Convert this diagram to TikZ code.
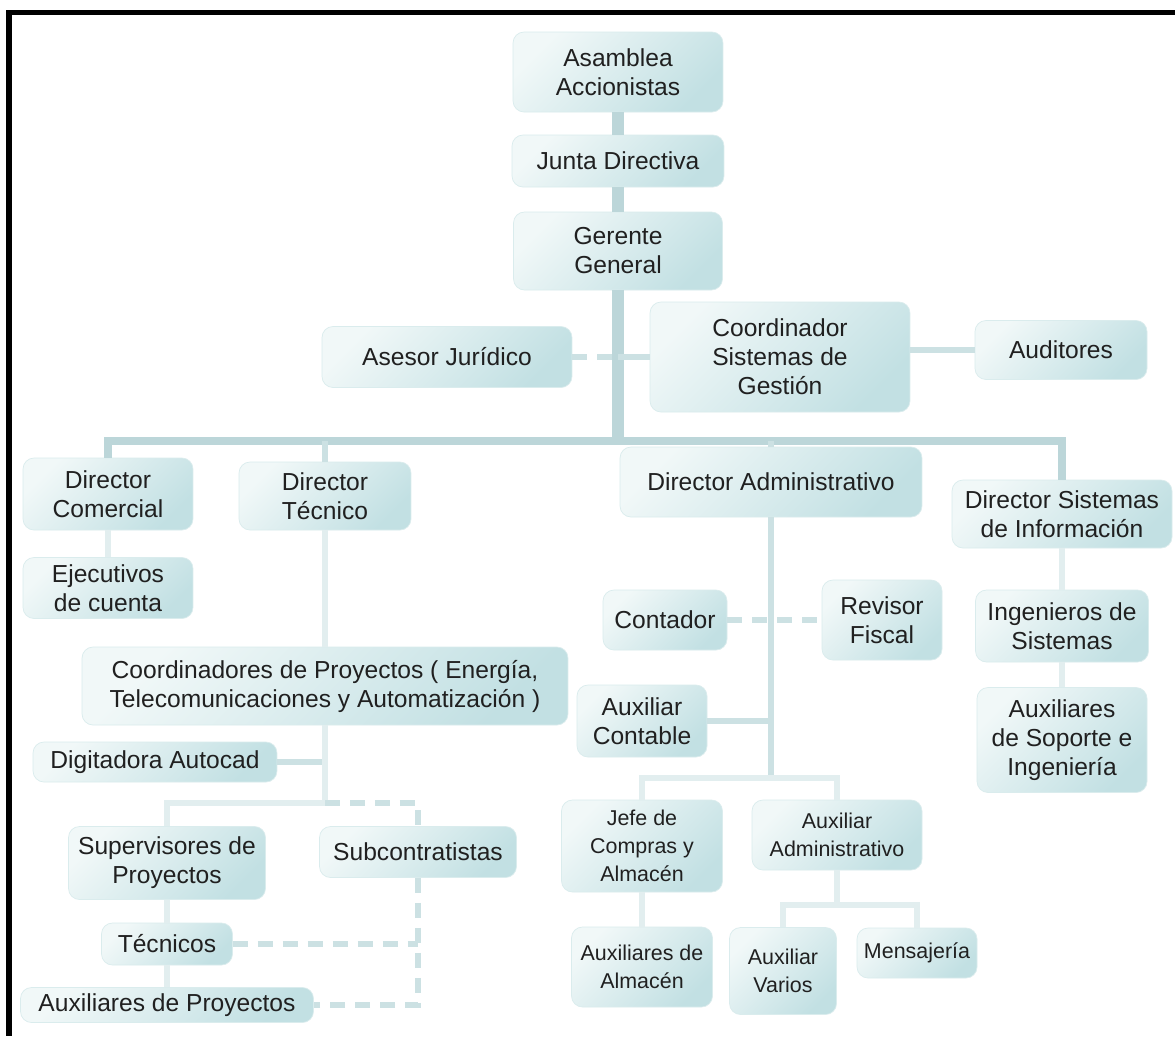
\documentclass[tikz,border=0pt]{standalone}
\usepackage{fontspec}
\setmainfont{Liberation Sans}
\usetikzlibrary{shapes,positioning}

\definecolor{boxlight}{HTML}{F1F8F8}
\definecolor{boxdark}{HTML}{C2E0E3}
\definecolor{boxedge}{HTML}{DAECED}
\definecolor{linkmain}{HTML}{BCD6D9}
\definecolor{linksoft}{HTML}{CCE1E3}
\definecolor{linkfaint}{HTML}{E2EEEF}
\definecolor{ink}{HTML}{202020}

\begin{document}
\begin{tikzpicture}[
        x=0.02cm, y=-0.02cm,
        role/.style={rectangle, rounded corners=0.22cm, draw=boxedge, line width=0.4pt,
            top color=boxlight, bottom color=boxdark, shading angle=45,
            align=center, text=ink, inner sep=2pt,
            font=\fontsize{14}{16.5}\selectfont},
        small/.style={font=\fontsize{12.2}{16}\selectfont},
        link/.style={draw=linkmain, line width=0.24cm},
        buslink/.style={draw=linkmain, line width=0.16cm},
        softlink/.style={draw=linksoft, line width=0.12cm},
        faintlink/.style={draw=linkfaint, line width=0.12cm},
        dashlink/.style={draw=linksoft, line width=0.13cm, dash pattern=on 0.3cm off 0.2cm}
    ]
        % Page and frame
        \useasboundingbox (0,0) rectangle (1175,1036);
        \fill[white] (0,0) rectangle (1175,1036);
        \fill[black] (6,10) rectangle (1175,15);
        \fill[black] (6,10) rectangle (12,1036);

        % Top of the company
        \node (asamblea) [role, minimum width=4.2cm, minimum height=1.6cm] at (618,72) {Asamblea\\Accionistas};
        \node (junta) [role, minimum width=4.24cm, minimum height=1.04cm] at (618,161) {Junta Directiva};
        \node (gerente) [role, minimum width=4.18cm, minimum height=1.56cm] at (618,251) {Gerente\\General};
        \node (asesor) [role, minimum width=5cm, minimum height=1.22cm] at (447,357) {Asesor Jurídico};
        \node (coordsg) [role, minimum width=5.2cm, minimum height=2.2cm] at (780,357) {Coordinador\\Sistemas de\\Gestión};
        \node (auditores) [role, minimum width=3.44cm, minimum height=1.18cm] at (1061,350) {Auditores};

        % Directors
        \node (dircom) [role, minimum width=3.4cm, minimum height=1.44cm] at (108,494) {Director\\Comercial};
        \node (dirtec) [role, minimum width=3.44cm, minimum height=1.36cm] at (325,496) {Director\\Técnico};
        \node (diradm) [role, minimum width=6.04cm, minimum height=1.4cm] at (771,482) {Director Administrativo};
        \node (dirsis) [role, minimum width=4.4cm, minimum height=1.36cm] at (1062,514) {Director Sistemas\\de Información};

        % Commercial and technical areas
        \node (ejecutivos) [role, minimum width=3.4cm, minimum height=1.22cm] at (108,588) {Ejecutivos\\de cuenta};
        \node (coordproy) [role, minimum width=9.72cm, minimum height=1.56cm] at (325,686) {Coordinadores de Proyectos ( Energía,\\Telecomunicaciones y Automatización )};
        \node (digitadora) [role, minimum width=4.88cm, minimum height=0.8cm] at (155,762) {Digitadora Autocad};
        \node (supervisores) [role, minimum width=3.94cm, minimum height=1.46cm] at (167,863) {Supervisores de\\Proyectos};
        \node (subcontr) [role, minimum width=3.94cm, minimum height=1.02cm] at (418,852) {Subcontratistas};
        \node (tecnicos) [role, minimum width=2.62cm, minimum height=0.84cm] at (167,944) {Técnicos};
        \node (auxproy) [role, minimum width=5.86cm, minimum height=0.7cm] at (167,1005) {Auxiliares de Proyectos};

        % Administrative area
        \node (contador) [role, minimum width=2.48cm, minimum height=1.2cm] at (665,620) {Contador};
        \node (revisor) [role, minimum width=2.4cm, minimum height=1.6cm] at (882,620) {Revisor\\Fiscal};
        \node (auxcont) [role, minimum width=2.6cm, minimum height=1.44cm] at (642,721) {Auxiliar\\Contable};
        \node (jefe) [role, small, minimum width=3.22cm, minimum height=1.84cm] at (642,846) {Jefe de\\Compras y\\Almacén};
        \node (auxadm) [role, small, minimum width=3.4cm, minimum height=1.4cm] at (837,835) {Auxiliar\\Administrativo};
        \node (auxalm) [role, small, minimum width=2.82cm, minimum height=1.6cm] at (642,967) {Auxiliares de\\Almacén};
        \node (auxvar) [role, small, minimum width=2.14cm, minimum height=1.74cm] at (783,971) {Auxiliar\\Varios};
        \node (mensajeria) [role, small, minimum width=2.4cm, minimum height=1cm] at (917,953) {Mensajería};

        % Information systems area
        \node (ingsis) [role, minimum width=3.46cm, minimum height=1.44cm] at (1062,626) {Ingenieros de\\Sistemas};
        \node (auxsop) [role, minimum width=3.4cm, minimum height=2.1cm] at (1062,740) {Auxiliares\\de Soporte e\\Ingeniería};

        % Junction points
        \coordinate (bus) at (618,441);
        \coordinate (tecbus) at (325,803);
        \coordinate (admbus) at (771,778);
        \coordinate (auxbus) at (837,905);

        % Connections
        \draw[link] (asamblea.south) -- (junta.north);
        \draw[link] (junta.south) -- (gerente.north);
        \draw[link] (gerente.south) -- (bus);
        \draw[dashlink] (asesor.east) -- (asesor.east -| bus);
        \draw[softlink] (coordsg.west) -- (coordsg.west -| bus);
        \draw[softlink] (auditores.west -| coordsg.east) -- (auditores.west);

        \draw[buslink] (dircom.north) -- (dircom.north |- bus) -- (dirsis.north |- bus) -- (dirsis.north);
        \draw[softlink] (dirtec.north |- bus) -- (dirtec.north);
        \draw[softlink] (diradm.north |- bus) -- (diradm.north);

        \draw[faintlink] (dircom.south) -- (ejecutivos.north);
        \draw[faintlink] (dirtec.south) -- (coordproy.north);
        \draw[softlink] (digitadora.east) -- (digitadora.east -| coordproy);
        \draw[faintlink] (coordproy.south) -- (tecbus) -- (tecbus -| supervisores) -- (supervisores.north);
        \draw[dashlink] (tecbus) -- (tecbus -| subcontr) -- (subcontr.north);
        \draw[faintlink] (supervisores.south) -- (tecnicos.north);
        \draw[faintlink] (tecnicos.south) -- (auxproy.north);
        \draw[dashlink] (tecnicos.east) -- (tecnicos.east -| subcontr);
        \draw[dashlink] (subcontr.south) -- (subcontr.south |- auxproy) -- (auxproy.east);

        \draw[softlink] (diradm.south) -- (admbus);
        \draw[dashlink] (contador.east) -- (revisor.west);
        \draw[softlink] (auxcont.east) -- (auxcont.east -| admbus);
        \draw[faintlink] (jefe.north) -- (jefe.north |- admbus) -- (auxadm.north |- admbus) -- (auxadm.north);
        \draw[faintlink] (jefe.south) -- (auxalm.north);
        \draw[faintlink] (auxadm.south) -- (auxbus);
        \draw[faintlink] (auxvar.north) -- (auxvar.north |- auxbus) -- (mensajeria.north |- auxbus) -- (mensajeria.north);

        \draw[faintlink] (dirsis.south) -- (ingsis.north);
        \draw[faintlink] (ingsis.south) -- (auxsop.north);

    \end{tikzpicture}
\end{document}
